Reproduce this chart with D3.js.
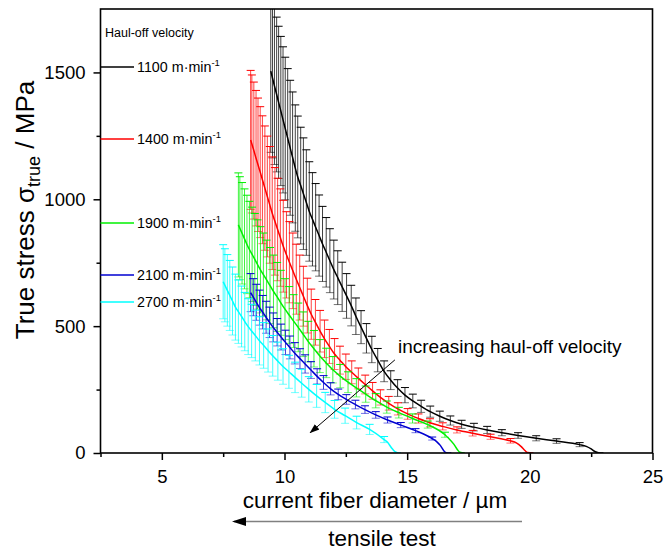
<!DOCTYPE html>
<html>
<head>
<meta charset="utf-8">
<script src="https://cdn.jsdelivr.net/npm/d3@7"></script>
<style>
  body { margin: 0; background: #fff; }
  svg { display: block; }
  text { font-family: "Liberation Sans", Arial, Helvetica, sans-serif; fill: #000; }
</style>
</head>
<body>
<svg id="chart" width="665" height="551"></svg>
<script>
// ---- data -------------------------------------------------------------
const velocities = ["1100", "1400", "1900", "2100", "2700"];
const colors = ["#000000", "#ff0000", "#00f000", "#0000d0", "#00ffff"];
const xTicks = [5, 10, 15, 20, 25];
const xMinor = [2.5, 7.5, 12.5, 17.5, 22.5];
const yTicks = [0, 500, 1000, 1500];
const yMinor = [250, 750, 1250];

// measured points with error bars: [diameter (µm), true stress (MPa), std. dev. (MPa)]
const bars1100 = [[9.44,1505,320],[9.51,1478,315],[9.59,1447,310],[9.68,1413,305],[9.76,1382,300],[9.85,1348,294],[9.94,1313,288],[10.03,1279,281],[10.13,1241,274],[10.23,1203,266],[10.33,1165,258],[10.44,1123,249],[10.54,1088,240],[10.66,1054,230],[10.77,1022,220],[10.89,987,208],[11.01,952,196],[11.14,921,184],[11.27,890,172],[11.41,857,160],[11.55,824,148],[11.70,791,137],[11.85,758,126],[12.01,723,116],[12.17,691,106],[12.35,655,97],[12.53,619,88],[12.72,581,80],[12.91,539,72],[13.12,496,65],[13.34,452,58],[13.56,408,52],[13.80,366,46],[14.06,322,41],[14.33,287,37],[14.61,256,33],[14.91,228,30],[15.23,205,27],[15.57,184,24],[15.94,163,22],[16.33,145,20],[16.76,128,18],[17.22,113,16],[17.72,102,15],[18.26,91,14],[18.86,80,12],[19.52,69,11],[20.26,58,10],[21.09,47,9],[22.03,33,8]];
const bars1400 = [[8.62,1234,274],[8.67,1218,272],[8.75,1192,270],[8.84,1162,267],[8.92,1136,263],[9.01,1107,258],[9.10,1077,252],[9.20,1044,245],[9.30,1011,238],[9.40,978,230],[9.50,945,222],[9.61,913,212],[9.72,881,202],[9.83,849,192],[9.95,815,181],[10.08,781,170],[10.20,752,160],[10.34,718,149],[10.48,685,138],[10.62,652,128],[10.77,618,118],[10.93,581,108],[11.09,547,99],[11.26,515,90],[11.45,480,82],[11.63,450,74],[11.83,420,67],[12.04,390,61],[12.26,366,55],[12.50,340,50],[12.74,318,45],[13.01,294,41],[13.29,270,37],[13.59,245,33],[13.91,219,30],[14.25,196,27],[14.62,174,24],[15.02,154,21],[15.46,136,18],[15.93,119,16],[16.45,105,14],[17.03,91,12],[17.67,78,11],[18.40,64,10],[19.21,48,9]];
const bars1900 = [[8.12,899,205],[8.18,886,203],[8.27,866,200],[8.37,844,197],[8.47,822,194],[8.57,802,190],[8.68,783,186],[8.79,763,181],[8.90,743,176],[9.02,722,170],[9.14,703,164],[9.27,682,157],[9.41,660,150],[9.55,637,143],[9.70,615,136],[9.85,592,128],[10.02,567,120],[10.19,544,112],[10.37,520,104],[10.56,495,96],[10.76,468,88],[10.97,439,80],[11.20,411,72],[11.44,382,65],[11.70,355,58],[11.97,328,52],[12.27,303,46],[12.59,279,41],[12.93,257,36],[13.31,232,32],[13.72,206,28],[14.17,181,24],[14.66,159,21],[15.22,136,18],[15.84,112,14],[16.54,72,10]];
const bars2100 = [[8.62,632,75],[8.73,614,73],[8.85,594,71],[8.98,573,69],[9.11,555,66],[9.25,535,63],[9.39,515,60],[9.54,495,57],[9.70,476,54],[9.86,457,51],[10.04,436,48],[10.22,416,45],[10.42,393,42],[10.63,372,39],[10.84,351,36],[11.08,327,33],[11.33,302,30],[11.59,278,27],[11.88,253,24],[12.19,231,21],[12.52,211,19],[12.89,191,17],[13.28,171,15],[13.72,150,13],[14.20,130,12],[14.74,110,10],[15.34,88,8],[16.02,57,6]];
const bars2700 = [[7.50,675,146],[7.57,661,144],[7.67,641,141],[7.77,621,138],[7.88,599,134],[8.00,575,130],[8.12,557,125],[8.25,538,120],[8.38,518,115],[8.52,498,110],[8.66,481,105],[8.81,463,100],[8.98,442,95],[9.15,424,90],[9.33,404,85],[9.52,383,80],[9.73,362,75],[9.94,341,70],[10.18,320,65],[10.43,298,60],[10.70,275,55],[10.99,251,50],[11.31,225,45],[11.66,199,40],[12.04,172,35],[12.47,147,30],[12.94,120,25],[13.47,93,20],[14.06,53,12]];

// end of each curve where the fibre breaks: [diameter (µm), true stress (MPa)]
const tail1100 = [[22.3,26],[22.5,16],[22.65,6],[22.8,1],[23.0,0]];
const tail1400 = [[19.45,40],[19.65,25],[19.8,10],[19.9,2],[20.15,0]];
const tail1900 = [[16.7,57],[16.9,35],[17.05,13],[17.15,3],[17.35,0]];
const tail2100 = [[16.2,45],[16.35,30],[16.5,8],[16.6,1],[16.8,0]];
const tail2700 = [[14.2,42],[14.35,22],[14.5,5],[14.6,1],[14.75,0]];

// direction arrow "increasing haul-off velocity": [diameter, stress] start and end
const arrowFrom = [14.5, 367];
const arrowTo = [11.05, 80];

const allBars = [bars1100, bars1400, bars1900, bars2100, bars2700];
const allTails = [tail1100, tail1400, tail1900, tail2100, tail2700];

// ---- layout -----------------------------------------------------------
const svg = d3.select("#chart");
const plotLeft = 100.5, plotRight = 652.5, plotTop = 9, plotBottom = 453;

const x = d3.scaleLinear().domain([2.5, 25]).range([plotLeft, plotRight]);
const y = d3.scaleLinear().domain([0, 1750]).range([plotBottom, plotTop]);

const defs = svg.append("defs");
defs.append("clipPath").attr("id", "plotClip")
  .append("rect").attr("x", plotLeft).attr("y", plotTop)
  .attr("width", plotRight - plotLeft).attr("height", plotBottom - plotTop);

defs.append("marker")
  .attr("id", "head").attr("viewBox", "0 0 10 10")
  .attr("refX", 9).attr("refY", 5)
  .attr("markerWidth", 10).attr("markerHeight", 10)
  .attr("markerUnits", "userSpaceOnUse")
  .attr("orient", "auto")
  .append("path").attr("d", "M0,1.5 L10,5 L0,8.5 Z").attr("fill", "#000");

// ---- series -----------------------------------------------------------
const plot = svg.append("g").attr("clip-path", "url(#plotClip)");
const line = d3.line().x(d => x(d[0])).y(d => y(d[1])).curve(d3.curveMonotoneX);
const capHalf = 4;

allBars.forEach((bars, i) => {
  const g = plot.append("g");
  const c = colors[i];
  const eb = g.append("g").attr("stroke", c).attr("stroke-width", 1).attr("fill", "none");
  bars.forEach(b => {
    const xp = x(b[0]);
    const yHi = y(b[1] + b[2]);
    const yLo = y(b[1] - b[2]);
    eb.append("line").attr("x1", xp).attr("x2", xp).attr("y1", yHi).attr("y2", yLo).attr("opacity", 0.75);
    eb.append("line").attr("x1", xp - capHalf).attr("x2", xp + capHalf).attr("y1", yHi).attr("y2", yHi);
    eb.append("line").attr("x1", xp - capHalf).attr("x2", xp + capHalf).attr("y1", yLo).attr("y2", yLo).attr("opacity", 0.55);
  });
  const pts = bars.map(b => [b[0], b[1]]).concat(allTails[i]).sort((a, b) => a[0] - b[0]);
  g.append("path").datum(pts).attr("d", line)
    .attr("fill", "none").attr("stroke", c).attr("stroke-width", 1.5);
});

// ---- axes -------------------------------------------------------------
const xAxis = svg.append("g").attr("transform", `translate(0,${plotBottom})`)
  .call(d3.axisBottom(x).tickValues(xTicks).tickFormat(d3.format("d"))
    .tickSize(7).tickPadding(10).tickSizeOuter(0));
const xAxisMinor = svg.append("g").attr("transform", `translate(0,${plotBottom})`)
  .call(d3.axisBottom(x).tickValues(xMinor).tickSize(4).tickFormat("").tickSizeOuter(0));
const yAxis = svg.append("g").attr("transform", `translate(${plotLeft},0)`)
  .call(d3.axisLeft(y).tickValues(yTicks).tickFormat(d3.format("d"))
    .tickSize(7).tickPadding(8).tickSizeOuter(0));
const yAxisMinor = svg.append("g").attr("transform", `translate(${plotLeft},0)`)
  .call(d3.axisLeft(y).tickValues(yMinor).tickSize(4).tickFormat("").tickSizeOuter(0));

[xAxis, xAxisMinor, yAxis, yAxisMinor].forEach(a => {
  a.select(".domain").remove();
  a.selectAll("line").attr("stroke", "#000").attr("stroke-width", 1.5);
  a.selectAll("text").attr("font-size", 18.5).attr("font-family", '"Liberation Sans", Arial, sans-serif').attr("fill", "#000");
});

svg.append("rect").attr("x", plotLeft).attr("y", plotTop)
  .attr("width", plotRight - plotLeft).attr("height", plotBottom - plotTop)
  .attr("fill", "none").attr("stroke", "#000").attr("stroke-width", 1.6);

// ---- legend -----------------------------------------------------------
const legendY = [67, 139, 223, 275, 302];
svg.append("text").attr("x", 105).attr("y", 37).attr("font-size", 12.5).text("Haul-off velocity");
velocities.forEach((v, i) => {
  svg.append("line").attr("x1", plotLeft).attr("x2", 134)
    .attr("y1", legendY[i]).attr("y2", legendY[i])
    .attr("stroke", colors[i]).attr("stroke-width", 1.3);
  const t = svg.append("text").attr("x", 137).attr("y", legendY[i] + 5).attr("font-size", 14.3);
  t.append("tspan").text(`${v} m·min`);
  t.append("tspan").attr("font-size", 9.5).attr("dy", -6).text("-1");
});

// ---- annotations ------------------------------------------------------
svg.append("line")
  .attr("x1", x(arrowFrom[0])).attr("y1", y(arrowFrom[1]))
  .attr("x2", x(arrowTo[0])).attr("y2", y(arrowTo[1]))
  .attr("stroke", "#000").attr("stroke-width", 1)
  .attr("marker-end", "url(#head)");
svg.append("text").attr("x", 398).attr("y", 353).attr("font-size", 19)
  .text("increasing haul-off velocity");

// axis titles
svg.append("text").attr("x", 375).attr("y", 508).attr("text-anchor", "middle")
  .attr("font-size", 22.5).text("current fiber diameter / µm");

const yTitle = svg.append("text")
  .attr("transform", "translate(34,210) rotate(-90)")
  .attr("text-anchor", "middle").attr("font-size", 26);
yTitle.append("tspan").text("True stress σ");
yTitle.append("tspan").attr("font-size", 18).attr("dy", 6).text("true");
yTitle.append("tspan").attr("dy", -6).text(" / MPa");

// tensile test direction
svg.append("line").attr("x1", 522).attr("x2", 234).attr("y1", 521.5).attr("y2", 521.5)
  .attr("stroke", "#808080").attr("stroke-width", 1.6);
svg.append("path").attr("d", "M232,521.5 L246,517 L246,526 Z").attr("fill", "#000");
svg.append("text").attr("x", 382).attr("y", 546).attr("text-anchor", "middle")
  .attr("font-size", 22.5).text("tensile test");
</script>
</body>
</html>
